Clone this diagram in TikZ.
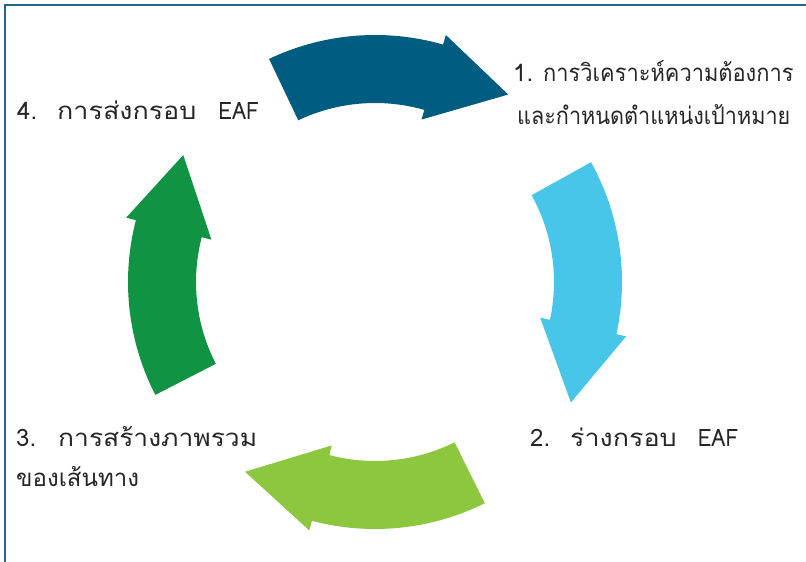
\documentclass[tikz,border=0pt]{standalone}
\usepackage{graphicx}
\usepackage{fontspec}
\newfontfamily\thaifont[Script=Thai]{Loma}
\definecolor{framecol}{RGB}{31,104,140}
\definecolor{darkblue}{RGB}{1,92,130}
\definecolor{lightblue}{RGB}{72,198,234}
\definecolor{limegreen}{RGB}{141,198,63}
\definecolor{deepgreen}{RGB}{16,148,68}
\definecolor{txt}{RGB}{38,38,38}
\newcommand\cyclearrow[4]{%
  \fill[#1] (#2:247pt) arc[start angle=#2,end angle=#3,radius=247pt]
    -- (#3:257pt) -- (#4:230pt) -- (#3:169pt) -- (#3:179pt)
    arc[start angle=#3,end angle=#2,radius=179pt] -- cycle;}
\newcommand\hsc[2]{\scalebox{#1}[1]{#2}}
\begin{document}
\begin{tikzpicture}[x=1pt,y=1pt,
  lbl/.style={font=\thaifont\fontsize{24}{43}\selectfont, text=txt, inner sep=0pt}]
\useasboundingbox (0,0) rectangle (806,562);
\draw[framecol, line width=2.5pt] (5,0) -- (5,557) -- (806,557);
\begin{scope}[shift={(375,280)}]
  \cyclearrow{darkblue}{115.4}{74}{54.6}
  \cyclearrow{lightblue}{29}{-12.2}{-31.6}
  \cyclearrow{limegreen}{-63.6}{-104.8}{-124.4}
  \cyclearrow{deepgreen}{207.2}{165.5}{146.5}
\end{scope}
\node[lbl, anchor=base west] (s1a) at (513,480) {\makebox[30pt][l]{1.}\hsc{0.91}{การวิเคราะห์ความต้องการ}};
\node[lbl, anchor=base west] (s1b) at (517,437) {\hsc{0.9}{และกำหนดตำแหน่งเป้าหมาย}};
\node[lbl, anchor=base west] (s2) at (530,115) {\makebox[40pt][l]{2.}\hsc{1.12}{ร่างกรอบ}\hspace{21pt}\hsc{0.88}{EAF}};
\node[lbl, anchor=base west] (s3a) at (16,115) {\makebox[42pt][l]{3.}\hsc{1.1}{การสร้างภาพรวม}};
\node[lbl, anchor=base west] (s3b) at (16,75) {ของเส้นทาง};
\node[lbl, anchor=base west] (s4) at (17,442) {\makebox[40pt][l]{4.}\hsc{1.12}{การส่งกรอบ}\hspace{22pt}\hsc{0.88}{EAF}};
\end{tikzpicture}
\end{document}
